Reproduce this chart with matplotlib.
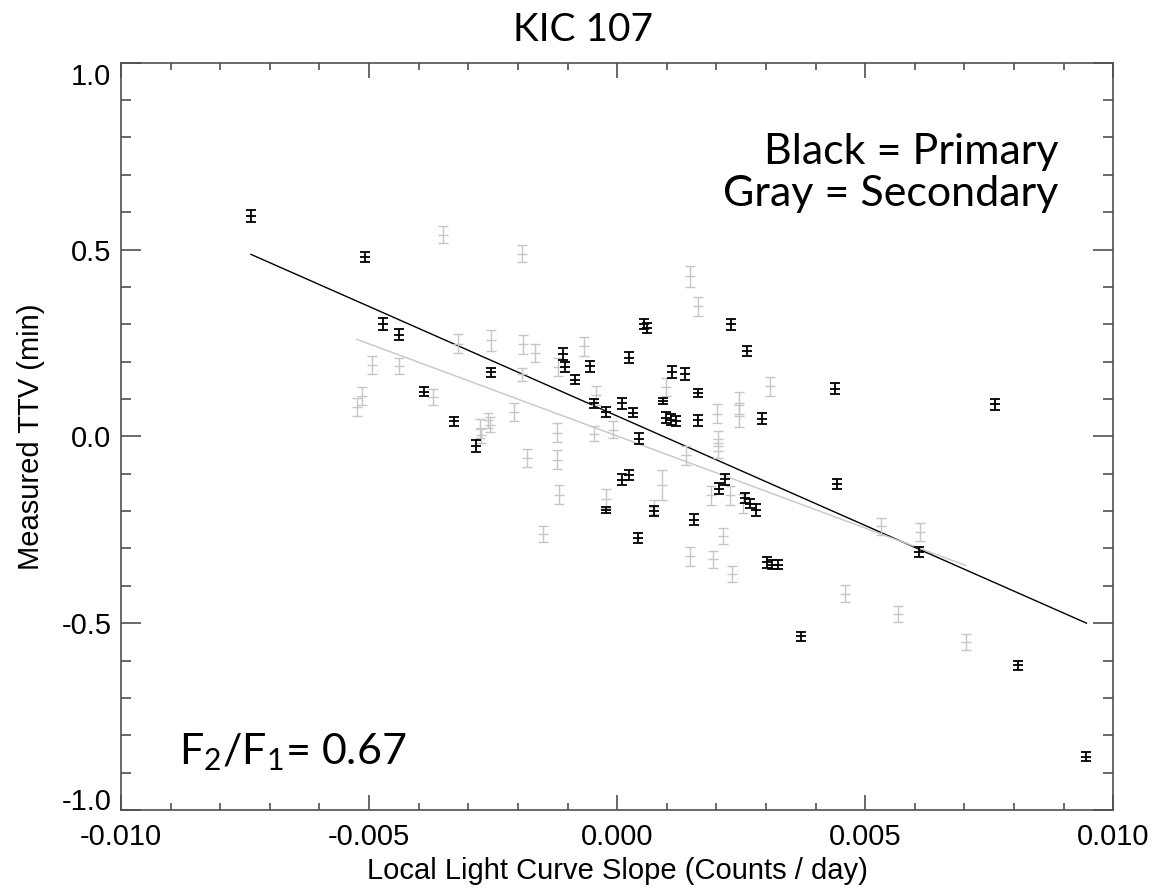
import matplotlib
matplotlib.use("Agg")
import matplotlib.pyplot as plt
import numpy as np
from matplotlib.ticker import MultipleLocator

# primary eclipses (black)
x_pri = [-0.00738, -0.00508, -0.00472, -0.00440, -0.00389, -0.00329, -0.00254, -0.00284,
         0.00055, 0.00060, 0.00230, 0.00261, -0.00109, -0.00106, -0.00084, -0.00054,
         0.00023, 0.00110, 0.00136, 0.00163, 0.00092, -0.00046, -0.00023, 0.00010,
         0.00032, 0.00099, 0.00108, 0.00118, 0.00163, 0.00291, 0.00045, 0.00009,
         0.00023, -0.00023, 0.00075, 0.00043, 0.00154, 0.00218, 0.00206, 0.00257,
         0.00267, 0.00280, 0.00303, 0.00313, 0.00325, 0.00440, 0.00762, 0.00444,
         0.00371, 0.00609, 0.00807, 0.00946]
y_pri = [0.589, 0.480, 0.300, 0.272, 0.120, 0.040, 0.171, -0.027,
         0.300, 0.290, 0.300, 0.228, 0.221, 0.186, 0.152, 0.188,
         0.211, 0.172, 0.166, 0.116, 0.095, 0.089, 0.065, 0.088,
         0.063, 0.050, 0.045, 0.042, 0.043, 0.047, -0.006, -0.116,
         -0.103, -0.196, -0.200, -0.272, -0.223, -0.115, -0.140, -0.164,
         -0.180, -0.196, -0.337, -0.343, -0.343, 0.128, 0.086, -0.127,
         -0.535, -0.310, -0.613, -0.857]
e_pri = [0.016, 0.014, 0.016, 0.015, 0.012, 0.013, 0.013, 0.016,
         0.014, 0.014, 0.015, 0.014, 0.016, 0.014, 0.013, 0.015,
         0.014, 0.016, 0.016, 0.010, 0.008, 0.012, 0.013, 0.014,
         0.012, 0.014, 0.014, 0.013, 0.015, 0.015, 0.014, 0.014,
         0.014, 0.008, 0.013, 0.013, 0.014, 0.014, 0.015, 0.013,
         0.013, 0.016, 0.014, 0.013, 0.013, 0.014, 0.015, 0.014,
         0.012, 0.014, 0.012, 0.012]

# secondary eclipses (gray)
x_sec = [-0.00351, -0.00191, -0.00495, -0.00440, -0.00515, -0.00525, -0.00371, -0.00320,
         -0.00255, -0.00189, -0.00166, -0.00191, -0.00208, -0.00260, -0.00257, -0.00277,
         -0.00274, -0.00181, 0.00146, 0.00163, -0.00067, -0.00119, -0.00042, 0.00099,
         0.00308, 0.00245, 0.00245, 0.00202, -0.00009, -0.00046, -0.00121, 0.00203,
         0.00203, 0.00139, -0.00121, -0.00117, -0.00150, -0.00023, 0.00091, 0.00075,
         0.00190, 0.00228, 0.00253, 0.00213, 0.00146, 0.00194, 0.00231, 0.00460,
         0.00531, 0.00611, 0.00566, 0.00703]
y_sec = [0.540, 0.489, 0.191, 0.188, 0.108, 0.079, 0.106, 0.248,
         0.257, 0.246, 0.223, 0.166, 0.065, 0.043, 0.031, 0.021,
         0.003, -0.058, 0.429, 0.348, 0.241, 0.186, 0.110, 0.132,
         0.134, 0.089, 0.054, 0.061, 0.018, 0.007, 0.010, -0.006,
         -0.038, -0.051, -0.062, -0.156, -0.261, -0.167, -0.131, -0.189,
         -0.158, -0.158, -0.179, -0.267, -0.321, -0.329, -0.368, -0.421,
         -0.241, -0.256, -0.475, -0.551]
e_sec = [0.022, 0.022, 0.025, 0.022, 0.025, 0.025, 0.022, 0.025,
         0.028, 0.025, 0.025, 0.018, 0.025, 0.020, 0.020, 0.025,
         0.020, 0.025, 0.028, 0.025, 0.025, 0.025, 0.025, 0.025,
         0.025, 0.030, 0.030, 0.025, 0.022, 0.020, 0.025, 0.020,
         0.020, 0.025, 0.025, 0.025, 0.022, 0.025, 0.040, 0.020,
         0.025, 0.025, 0.025, 0.022, 0.025, 0.022, 0.022, 0.022,
         0.022, 0.025, 0.022, 0.022]

# linear fits (slope, intercept)
fit_pri = (-58.6, 0.0545)
fit_sec = (-49.3, 0.001)

x_ticks = [-0.010, -0.005, 0.000, 0.005, 0.010]
x_labels = ["-0.010", "-0.005", "0.000", "0.005", "0.010"]
y_ticks = [-1.0, -0.5, 0.0, 0.5, 1.0]
y_labels = ["-1.0", "-0.5", "0.0", "0.5", "1.0"]

GRAY = "#c6c6c6"
AXC = "#505050"

plt.rcParams["font.family"] = ["Liberation Sans", "DejaVu Sans"]
plt.rcParams["mathtext.fontset"] = "custom"
plt.rcParams["mathtext.rm"] = "Lato"

fig = plt.figure(figsize=(11.57, 8.88), dpi=100)
ax = fig.add_axes([0.1046, 0.0878, 0.8576, 0.8416])

# fit lines
for xs, (m, b), col in [(x_pri, fit_pri, "black"), (x_sec, fit_sec, GRAY)]:
    xx = np.array([min(xs), max(xs)])
    ax.plot(xx, m * xx + b, color=col, lw=1.0, zorder=1)

ax.errorbar(x_sec, y_sec, yerr=e_sec, fmt="_", color=GRAY, ms=7, mew=1.0,
            elinewidth=1.0, capsize=3.6, capthick=1.0, zorder=2)
ax.errorbar(x_pri, y_pri, yerr=e_pri, fmt="_", color="black", ms=7, mew=1.3,
            elinewidth=1.3, capsize=3.6, capthick=1.3, zorder=3)

ax.set_xlim(-0.010, 0.010)
ax.set_ylim(-1.0, 1.0)
ax.set_xticks(x_ticks)
ax.set_xticklabels(x_labels)
ax.set_yticks(y_ticks)
ax.set_yticklabels(y_labels)
ax.xaxis.set_minor_locator(MultipleLocator(0.001))
ax.yaxis.set_minor_locator(MultipleLocator(0.1))

ax.tick_params(which="both", direction="in", top=True, right=True,
               color=AXC, width=1.2, labelsize=21)
ax.tick_params(axis="x", which="major", length=10.8, pad=9)
ax.tick_params(axis="x", which="minor", length=5.2)
ax.tick_params(axis="y", which="major", length=14.4, pad=7)
ax.tick_params(axis="y", which="minor", length=7.2)
for sp in ax.spines.values():
    sp.set_color(AXC)
    sp.set_linewidth(1.2)

# end labels sit a little inside the axis range, as in the original
ylab = ax.get_yticklabels()
ylab[0].set_va("baseline")
ylab[-1].set_va("top")

ax.set_xlabel("Local Light Curve Slope (Counts / day)", fontsize=21, labelpad=5)
ax.set_ylabel("Measured TTV (min)", fontsize=21, labelpad=12)

fig.text(0.504, 1 - 30 / 888, "KIC 107", ha="center", va="center",
         fontsize=28, family="Lato")
ax.text(0.945, 0.852, "Black = Primary\nGray = Secondary", transform=ax.transAxes,
        ha="right", va="center", fontsize=31, family="Lato", linespacing=1.12)
ax.text(0.058, 0.077, r"F$_\mathregular{2}$/F$_\mathregular{1}$= 0.67",
        transform=ax.transAxes, ha="left", va="center", fontsize=31, family="Lato")

fig.savefig("out.png", dpi=100)
